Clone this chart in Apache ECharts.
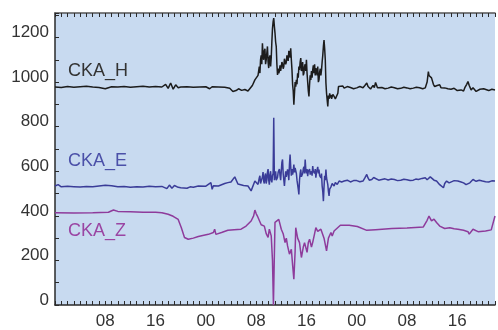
<!DOCTYPE html>
<html>
<head>
<meta charset="utf-8">
<script src="https://cdn.jsdelivr.net/npm/echarts@6/dist/echarts.min.js"></script>
<style>
  html, body { margin: 0; padding: 0; background: #fff; }
  #chart { width: 498px; height: 330px; }
</style>
</head>
<body>
<div id="chart"></div>
<script>
// hours since start (00 UT of day 1), values as plotted (offset traces)
const hourLabels = [8, 16, 24, 32, 40, 48, 56, 64];

const ckaH = [
  [0,978],[1,976],[2,980],[3,977],[4,979],[5,981],[6,978],[7,976],[8,970],[8.5,975],[9,979],[10,978],
  [11,980],[12,977],[13,979],[14,981],[15,978],[16,980],[17,978],[17.6,990],[18,972],[18.4,996],[18.8,968],
  [19.2,988],[19.6,975],[20,978],[21,979],[22,977],[23,978],[24,979],[24.6,970],[25,979],[26,978],[27,977],
  [27.8,972],[28.3,958],[28.8,962],[29.2,970],[29.7,963],[30.2,967],[30.7,960],[31,965],[31.4,985],[31.8,1010],
  [32.1,1005],[32.3,1030],[32.5,1070],[32.6,1040],[32.7,1100],[32.8,1120],[32.9,1080],[33,1174],[33.1,1120],
  [33.2,1100],[33.3,1140],[33.4,1150],[33.5,1080],[33.6,1100],[33.7,1130],[33.8,1160],[33.9,1090],[34,1063],
  [34.1,1110],[34.2,1120],[34.3,1070],[34.4,1108],[34.5,1180],[34.6,1240],[34.7,1270],[34.8,1287],[34.9,1250],
  [35,1220],[35.1,1180],[35.2,1159],[35.3,1080],[35.4,1032],[35.5,1060],[35.6,1040],[35.7,1050],[35.8,1075],
  [35.9,1050],[36,1055],[36.1,1090],[36.2,1080],[36.3,1060],[36.4,1070],[36.5,1105],[36.6,1100],[36.7,1080],
  [36.8,1090],[36.9,1120],[37,1114],[37.1,1095],[37.2,1140],[37.3,1130],[37.4,1110],[37.5,1152],[37.6,1100],
  [37.7,1055],[37.8,990],[37.9,960],[38,899],[38.1,950],[38.2,1000],[38.3,980],[38.4,1010],[38.5,990],
  [38.6,1040],[38.7,1020],[38.8,1070],[38.9,1055],[39,1090],[39.1,1108],[39.2,1050],[39.3,1060],[39.4,1090],
  [39.5,1030],[39.6,1041],[39.7,1070],[39.8,1080],[39.9,1050],[40,1100],[40.1,1040],[40.2,1000],[40.3,960],
  [40.4,936],[40.5,990],[40.6,1030],[40.7,1010],[40.8,1050],[40.9,1020],[41,1055],[41.1,1075],[41.2,1040],
  [41.3,1080],[41.4,1030],[41.5,1063],[41.6,1050],[41.7,1030],[41.8,1070],[41.9,1000],[42,1010],[42.1,1045],
  [42.2,1060],[42.3,1030],[42.4,1055],[42.5,1090],[42.6,1120],[42.7,1160],[42.8,1189],[42.9,1150],[43,1100],
  [43.1,997],[43.2,950],[43.3,920],[43.4,891],[43.5,940],[43.6,925],[43.7,950],[43.8,930],[43.9,943],
  [44,925],[44.1,930],[44.2,945],[44.4,936],[44.6,925],[44.8,921],[45,950],[45.1,980],[45.4,975],[45.8,982],
  [46,973],[46.5,980],[47,976],[47.5,970],[48,974],[48.5,980],[49,975],[49.3,985],[49.6,996],[49.8,980],
  [50,975],[50.2,969],[50.6,985],[50.8,975],[51,998],[51.3,975],[51.5,969],[52,976],[52.5,970],[53,973],
  [53.5,978],[54,975],[54.5,970],[55,972],[55.5,977],[56,974],[56.5,970],[57,973],[57.5,977],[58,975],
  [58.5,970],[58.9,974],[59.2,1000],[59.4,1047],[59.5,1030],[59.7,1035],[59.9,1019],[60.2,990],[60.4,980],
  [60.6,975],[60.8,985],[61,978],[61.2,988],[61.4,975],[61.6,978],[62,974],[62.5,970],[63,968],[63.5,972],
  [64,962],[64.3,970],[64.6,965],[65,960],[65.2,975],[65.5,990],[65.7,1003],[65.9,985],[66,985],[66.2,965],
  [66.5,975],[66.8,970],[67,958],[67.3,960],[67.6,968],[67.8,962],[68.2,970],[68.5,966],[69,962],[69.5,968],[70,965]
];

const ckaE = [
  [0,534],[0.5,540],[1,530],[2,533],[3,531],[4,529],[5,532],[6,530],[7,534],[8,537],[9,535],[10,530],
  [11,532],[12,528],[13,531],[14,529],[15,533],[16,530],[17,532],[17.8,522],[18.2,538],[18.6,524],[19,536],
  [19.6,528],[20,526],[21,524],[21.5,530],[22,528],[22.8,534],[24,533],[24.8,549],[25,519],[25.2,535],
  [26,534],[27,545],[27.5,549],[28,552],[28.6,575],[29.1,543],[30,536],[30.7,534],[31.2,512],[31.8,556],
  [32.1,560],[32.3,541],[32.5,570],[32.6,580],[32.7,545],[32.9,550],[33,575],[33.1,596],[33.2,555],[33.3,545],
  [33.4,580],[33.5,590],[33.6,545],[33.7,560],[33.8,595],[33.9,610],[34,560],[34.1,540],[34.2,585],[34.3,600],
  [34.4,560],[34.5,550],[34.6,580],[34.7,590],[34.75,700],[34.8,840],[34.85,700],[34.9,560],[35,585],[35.1,600],
  [35.2,560],[35.4,572],[35.5,595],[35.7,610],[35.8,580],[35.9,560],[36,600],[36.1,640],[36.2,653],[36.3,590],
  [36.5,534],[36.6,570],[36.7,600],[36.8,575],[37,608],[37.1,590],[37.2,560],[37.3,630],[37.4,675],[37.5,620],
  [37.6,580],[37.7,610],[37.8,585],[37.9,600],[38,630],[38.1,595],[38.2,615],[38.3,623],[38.4,590],[38.5,560],
  [38.6,540],[38.7,520],[38.8,496],[38.9,560],[39,590],[39.1,608],[39.2,575],[39.4,590],[39.5,610],[39.6,620],
  [39.7,590],[39.8,653],[39.9,610],[40,590],[40.1,610],[40.2,578],[40.3,600],[40.5,610],[40.6,585],[40.8,600],
  [40.9,580],[41,623],[41.1,600],[41.3,590],[41.4,610],[41.5,571],[41.6,595],[41.8,620],[41.9,590],[42,608],
  [42.1,580],[42.3,570],[42.4,590],[42.5,534],[42.6,510],[42.7,466],[42.8,530],[42.9,580],[43,560],[43.1,608],
  [43.2,570],[43.4,540],[43.5,510],[43.6,489],[43.7,520],[43.9,530],[44.1,545],[44.4,534],[44.6,550],[44.9,541],
  [45.2,556],[45.6,552],[46,556],[46.5,560],[47,552],[47.5,558],[48,558],[48.5,553],[49,556],[49.3,570],
  [49.6,586],[49.8,570],[50,560],[50.4,563],[50.7,572],[51,570],[51.5,560],[52,563],[52.5,566],[53,561],
  [53.5,565],[54,563],[54.5,558],[55,560],[55.5,564],[56,562],[56.5,559],[57,560],[57.4,565],[57.8,563],
  [58.4,568],[58.9,571],[59.2,562],[59.5,565],[59.7,575],[59.9,571],[60.3,560],[60.7,556],[61,548],[61.2,540],
  [61.5,535],[61.8,526],[62,545],[62.3,556],[62.7,548],[63,552],[63.5,558],[64.1,556],[64.6,552],[65,548],
  [65.4,540],[65.7,536],[66,548],[66.5,563],[67,555],[67.5,560],[68,556],[68.5,553],[69,552],[69.5,557],[70,556]
];

const ckaZ = [
  [0,414],[3,413],[6,414],[8.5,416],[9.3,426],[10,420],[12,418],[14,416],[16,416],[17,414],[18,407],
  [18.8,398],[19.6,384],[20.1,347],[20.6,303],[21.2,295],[22,300],[22.8,307],[23.5,312],[24.4,317],[25.2,325],
  [25.4,340],[25.6,317],[26.5,325],[27.5,335],[28.5,338],[29.6,340],[30.4,354],[31.2,377],[31.6,400],
  [31.8,426],[32,410],[32.2,399],[32.5,393],[32.8,360],[33.3,354],[33.6,320],[33.9,303],[34.1,340],[34.4,310],
  [34.6,200],[34.75,0],[34.85,150],[35,371],[35.2,377],[35.6,384],[36,340],[36.3,320],[36.6,280],[36.8,300],
  [37,265],[37.3,228],[37.6,250],[37.8,180],[38,116],[38.2,240],[38.3,347],[38.6,300],[38.9,280],[39.2,213],
  [39.5,260],[39.7,280],[40.1,236],[40.3,280],[40.5,295],[40.8,260],[41,281],[41.3,320],[41.5,347],[41.8,330],
  [42,325],[42.3,340],[42.5,347],[42.8,300],[43.2,243],[43.5,300],[43.9,325],[44.1,310],[44.4,332],[45.4,358],
  [46.8,358],[48.1,352],[49.6,335],[51,338],[53.6,343],[56,346],[58.6,350],[59.2,380],[59.5,399],[59.9,377],
  [60.3,385],[60.7,370],[61.2,354],[62,343],[62.8,347],[63.5,342],[64.1,340],[65,335],[65.7,329],[65.9,318],
  [66.1,313],[66.5,340],[67.3,329],[68.5,332],[69.4,337],[70,399]
];

(function() {
  const chart = echarts.init(document.getElementById("chart"));
  const font = "'Liberation Sans', Arial, sans-serif";
  const axisColor = "#2a2a2a";

  const pad = n => (n < 10 ? "0" : "") + n;
  const mkLine = (name, data, color) => ({
    name, type: "line", data, showSymbol: false, animation: false,
    lineStyle: { color, width: 1.5 }, itemStyle: { color }
  });

  chart.setOption({
    animation: false,
    grid: { left: 55, right: 0, top: 13, bottom: 24, show: true, backgroundColor: "#c8daf0", borderWidth: 0 },
    xAxis: [{
      type: "value", min: 0, max: 70, interval: 1, position: "bottom",
      axisLine: { lineStyle: { color: axisColor, width: 1.5 } },
      axisTick: { inside: true, length: 4, lineStyle: { color: axisColor, width: 1 } },
      splitLine: { show: false },
      axisLabel: {
        color: "#333", fontSize: 17, fontFamily: font, margin: 8,
        formatter: v => hourLabels.includes(v) ? pad(v % 24) : ""
      }
    }, {
      type: "value", min: 0, max: 70, interval: 1, position: "top",
      axisLine: { lineStyle: { color: "#555", width: 1.5 } },
      axisTick: { inside: true, length: 4, lineStyle: { color: axisColor, width: 1 } },
      splitLine: { show: false }, axisLabel: { show: false }
    }],
    yAxis: {
      type: "value", min: 0, max: 1310, interval: 100,
      axisLine: { show: true, lineStyle: { color: axisColor, width: 1.5 } },
      axisTick: { inside: true, length: 4, lineStyle: { color: axisColor, width: 1 } },
      splitLine: { show: false },
      axisLabel: {
        color: "#333", fontSize: 17, fontFamily: font, margin: 6,
        verticalAlign: "bottom", lineHeight: 10,
        formatter: v => (v % 200 === 0 && v <= 1200) ? String(v) : ""
      }
    },
    graphic: [
      { type: "text", left: 68, top: 62, style: { text: "CKA_H", fill: "#333", font: "18px " + font } },
      { type: "text", left: 68, top: 152, style: { text: "CKA_E", fill: "#4b50a8", font: "18px " + font } },
      { type: "text", left: 68, top: 222, style: { text: "CKA_Z", fill: "#9a45a3", font: "18px " + font } }
    ],
    series: [
      mkLine("CKA_H", ckaH, "#1c1c1c"),
      mkLine("CKA_E", ckaE, "#3a3c98"),
      mkLine("CKA_Z", ckaZ, "#8e3b9b")
    ]
  });
})();
</script>
</body>
</html>
